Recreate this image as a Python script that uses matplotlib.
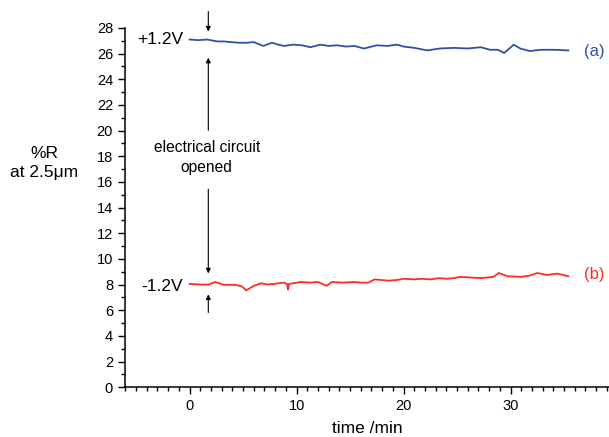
import matplotlib.pyplot as plt
from matplotlib.ticker import MultipleLocator

plt.rcParams['font.family'] = ['Liberation Sans', 'DejaVu Sans']

# --- data ---
# (a) +1.2V trace
time_a = [0.0, 0.8, 1.65, 2.6, 3.2, 3.8, 4.6, 5.4, 6.0, 6.9, 7.7, 8.3, 8.8, 9.7, 10.5,
          11.3, 12.2, 13.0, 13.8, 14.6, 15.4, 16.3, 17.5, 18.5, 19.4, 20.0, 21.0,
          22.2, 23.4, 24.7, 26.0, 27.2, 28.1, 28.8, 29.4, 30.3, 30.9, 31.8, 32.8,
          34.0, 35.4]
r_a = [27.1, 27.05, 27.1, 26.95, 26.95, 26.9, 26.85, 26.85, 26.9, 26.6, 26.85, 26.7,
       26.6, 26.7, 26.65, 26.5, 26.7, 26.6, 26.65, 26.55, 26.6, 26.4, 26.65, 26.6,
       26.7, 26.55, 26.45, 26.25, 26.4, 26.45, 26.4, 26.5, 26.3, 26.3, 26.05, 26.7,
       26.4, 26.2, 26.3, 26.3, 26.25]

# (b) -1.2V trace
time_b = [0.0, 1.0, 1.8, 2.4, 3.2, 4.3, 4.9, 5.3, 6.0, 6.7, 7.3, 7.9, 8.8, 9.1, 9.2,
          9.3, 10.4, 11.2, 12.0, 12.8, 13.3, 14.3, 15.4, 16.0, 16.7, 17.3, 18.6,
          19.3, 20.1, 21.0, 21.7, 22.5, 23.3, 24.0, 24.7, 25.3, 26.2, 27.2, 28.4,
          28.9, 29.7, 31.0, 31.8, 32.5, 33.4, 34.4, 35.4]
r_b = [8.05, 8.0, 8.0, 8.2, 7.98, 7.98, 7.85, 7.55, 7.9, 8.1, 8.0, 8.05, 8.15, 8.05,
       7.6, 8.05, 8.2, 8.15, 8.2, 7.9, 8.2, 8.15, 8.2, 8.15, 8.15, 8.4, 8.3, 8.35,
       8.45, 8.4, 8.45, 8.4, 8.5, 8.45, 8.5, 8.6, 8.55, 8.5, 8.6, 8.9, 8.65, 8.6,
       8.7, 8.9, 8.75, 8.85, 8.65]

blue = '#3050a8'
red = '#ff2a2a'
t_switch = 1.75

fig = plt.figure(figsize=(6.09, 4.37), dpi=100)
ax = fig.add_axes([0.205, 0.114, 0.795, 0.822])

ax.plot(time_a, r_a, color=blue, lw=1.3)
ax.plot(time_b, r_b, color=red, lw=1.3)

ax.set_xlim(-6.05, 39.2)
ax.set_ylim(0, 28)
ax.xaxis.set_major_locator(MultipleLocator(10))
ax.xaxis.set_minor_locator(MultipleLocator(1))
ax.yaxis.set_major_locator(MultipleLocator(2))
ax.yaxis.set_minor_locator(MultipleLocator(1))
ax.tick_params(which='major', direction='out', length=5, width=1, labelsize=10.5)
ax.tick_params(which='minor', direction='out', length=3, width=1)
for side in ['top', 'right']:
    ax.spines[side].set_visible(False)
for side in ['left', 'bottom']:
    ax.spines[side].set_linewidth(1.1)

ax.set_xlabel('time /min', fontsize=12.5, labelpad=6)
fig.text(0.073, 0.627, '%R\nat 2.5\u03bcm', fontsize=12.5, ha='center', va='center',
         linespacing=1.3)

# voltage labels
ax.text(-0.6, 27.1, '+1.2V', fontsize=12.5, ha='right', va='center')
ax.text(-0.6, 7.85, '-1.2V', fontsize=12.5, ha='right', va='center')
ax.text(36.9, 26.2, '(a)', fontsize=12, color=blue, ha='left', va='center')
ax.text(36.9, 8.75, '(b)', fontsize=12, color=red, ha='left', va='center')

# "electrical circuit opened" arrows
arrow = dict(arrowstyle='-|>', color='black', lw=0.8, mutation_scale=7)
ax.annotate('', xy=(t_switch, 27.5), xytext=(t_switch, 29.5), arrowprops=arrow,
            annotation_clip=False)
ax.annotate('', xy=(t_switch, 25.9), xytext=(t_switch, 19.8), arrowprops=arrow)
ax.annotate('', xy=(t_switch, 8.65), xytext=(t_switch, 15.65), arrowprops=arrow)
ax.annotate('', xy=(t_switch, 7.45), xytext=(t_switch, 5.6), arrowprops=arrow)
ax.text(1.6, 17.9, 'electrical circuit\nopened', fontsize=11.2, ha='center',
        va='center', linespacing=1.35)

fig.savefig('out.png', dpi=100)
